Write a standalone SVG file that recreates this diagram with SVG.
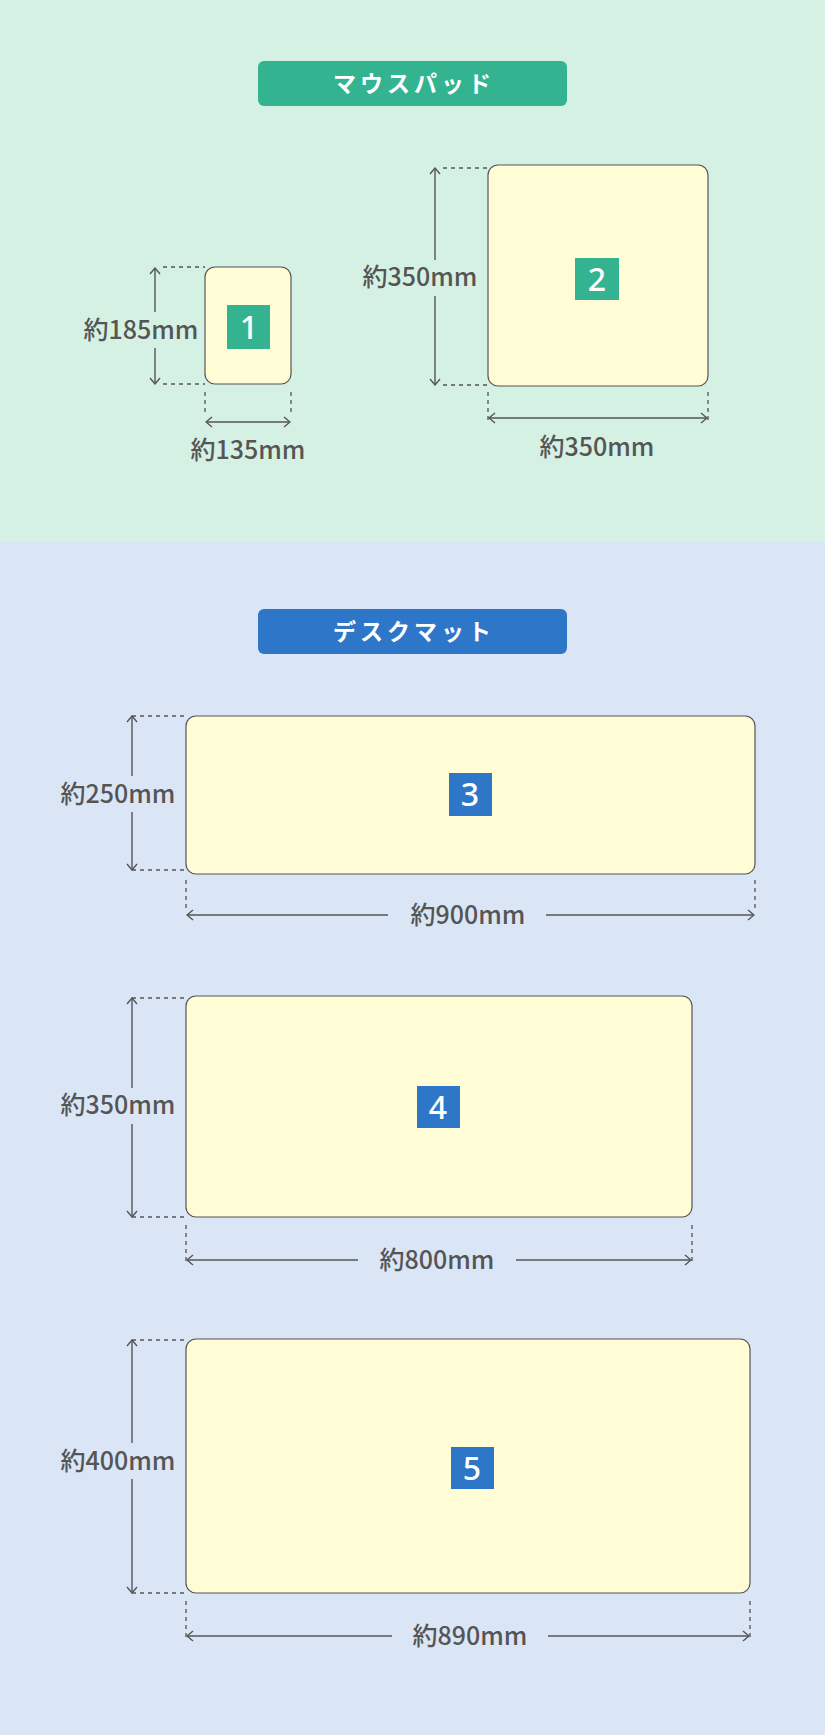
<svg xmlns="http://www.w3.org/2000/svg" width="825" height="1735" viewBox="0 0 825 1735">
<defs>
<marker id="ah" viewBox="0 0 12 12" refX="11" refY="6" markerWidth="12" markerHeight="12" markerUnits="userSpaceOnUse" orient="auto-start-reverse"><path d="M5,1 L11,6 L5,11" fill="none" stroke="#555" stroke-width="1.4"/></marker>
</defs>
<style>
.pad{fill:#fffcd6;stroke:#555;stroke-width:1.2}
.dim{stroke:#555;stroke-width:1.4;fill:none}
.arr{stroke:#555;stroke-width:1.4;fill:none;marker-start:url(#ah);marker-end:url(#ah)}
.dash{stroke:#555;stroke-width:1.3;stroke-dasharray:4 4;fill:none}
.lbl{font-family:"Noto Sans CJK JP","Noto Sans",sans-serif;font-size:25px;font-weight:500;fill:#555;text-anchor:middle}
.num{font-family:"Noto Sans","Noto Sans CJK JP",sans-serif;font-size:32px;font-weight:500;fill:#fff;text-anchor:middle}
.ttl{font-family:"Noto Sans CJK JP",sans-serif;font-size:23px;font-weight:bold;fill:#fff;text-anchor:middle;letter-spacing:4px}
</style>
<rect x="0" y="0" width="825" height="542" fill="#d5f1e3"/>
<rect x="0" y="542" width="825" height="1193" fill="#dae6f5"/>
<g id="title1"><rect x="258" y="61" width="309" height="45" rx="6" fill="#34b391"/><text class="ttl" x="414" y="92">マウスパッド</text></g>
<g id="title2"><rect x="258" y="609" width="309" height="45" rx="6" fill="#2e77c8"/><text class="ttl" x="414" y="640">デスクマット</text></g>
<g id="pad1"><rect class="pad" x="205" y="267" width="86" height="117" rx="10"/><rect x="227" y="305" width="43" height="44" fill="#34b391"/><text class="num" x="249" y="339">1</text></g>
<g id="pad2"><rect class="pad" x="488" y="165" width="220" height="221" rx="10"/><rect x="575" y="258" width="44" height="42" fill="#34b391"/><text class="num" x="597" y="291">2</text></g>
<g id="pad3"><rect class="pad" x="186" y="716" width="569" height="158" rx="10"/><rect x="449" y="773" width="43" height="43" fill="#2e77c8"/><text class="num" x="470" y="806">3</text></g>
<g id="pad4"><rect class="pad" x="186" y="996" width="506" height="221" rx="10"/><rect x="417" y="1086" width="43" height="42" fill="#2e77c8"/><text class="num" x="438" y="1119">4</text></g>
<g id="pad5"><rect class="pad" x="186" y="1339" width="564" height="254" rx="10"/><rect x="451" y="1447" width="43" height="42" fill="#2e77c8"/><text class="num" x="472" y="1480">5</text></g>
<g id="connectors">
<path class="dash" d="M163,267H205M163,384H205M205,392V412M291,392V412"/>
<path class="arr" d="M155,268V384"/>
<path class="arr" d="M206,422H290"/>
<path class="dash" d="M443,168H488M443,385H488M488,392V422M708,392V422"/>
<path class="arr" d="M435,168V385"/>
<path class="arr" d="M489,418H707"/>
<path class="dash" d="M132,716H186M132,870H186M186,880V910M755,880V910"/>
<path class="arr" d="M132,716V870"/>
<path class="dim" d="M187,915H388" marker-start="url(#ah)"/><path class="dim" d="M546,915H754" marker-end="url(#ah)"/>
<path class="dash" d="M132,998H186M132,1217H186M186,1225V1265M692,1225V1265"/>
<path class="arr" d="M132,998V1217"/>
<path class="dim" d="M187,1260H358" marker-start="url(#ah)"/><path class="dim" d="M516,1260H691" marker-end="url(#ah)"/>
<path class="dash" d="M132,1340H186M132,1593H186M186,1601V1641M750,1601V1641"/>
<path class="arr" d="M132,1340V1593"/>
<path class="dim" d="M187,1636H392" marker-start="url(#ah)"/><path class="dim" d="M548,1636H749" marker-end="url(#ah)"/>
</g>
<g id="labels">
<rect x="75" y="312" width="127" height="36" fill="#d5f1e3"/>
<text class="lbl" x="141" y="339">約185mm</text>
<text class="lbl" x="248" y="459">約135mm</text>
<rect x="358" y="260" width="127" height="36" fill="#d5f1e3"/>
<text class="lbl" x="420" y="286">約350mm</text>
<text class="lbl" x="597" y="456">約350mm</text>
<rect x="53" y="776" width="129" height="36" fill="#dae6f5"/>
<text class="lbl" x="118" y="803">約250mm</text>
<text class="lbl" x="468" y="924">約900mm</text>
<rect x="53" y="1088" width="129" height="36" fill="#dae6f5"/>
<text class="lbl" x="118" y="1114">約350mm</text>
<text class="lbl" x="437" y="1269">約800mm</text>
<rect x="53" y="1443" width="129" height="36" fill="#dae6f5"/>
<text class="lbl" x="118" y="1470">約400mm</text>
<text class="lbl" x="470" y="1645">約890mm</text>
</g>
</svg>
